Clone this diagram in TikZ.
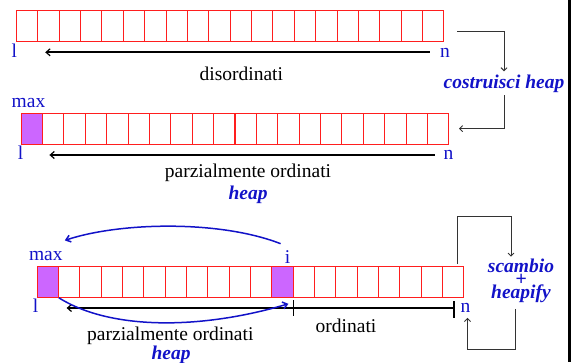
\documentclass[tikz,border=0pt]{standalone}
\usepackage{fontspec}
\setmainfont{Liberation Serif}
\definecolor{cellred}{RGB}{255,30,30}
\definecolor{heapviolet}{RGB}{204,102,255}
\definecolor{labelblue}{RGB}{18,18,200}
\usetikzlibrary{arrows.meta, positioning, calc}

\begin{document}
\begin{tikzpicture}[x=1pt, y=-1pt,
  cell/.style={draw=cellred, line width=0.8pt, minimum width=21.35pt,
               minimum height=31pt, inner sep=0pt, anchor=north west},
  fullcell/.style={cell, fill=heapviolet},
  tag/.style={text=labelblue, font=\fontsize{19.5}{20}\selectfont,
              text height=9.4pt, text depth=0pt, inner sep=0pt, anchor=base},
  note/.style={font=\fontsize{19.5}{20}\selectfont, inner sep=0pt, anchor=base},
  boldnote/.style={note, text=labelblue, font=\fontsize{19.5}{20}\selectfont\bfseries\itshape},
  spanline/.style={line width=1.7pt, -{Straight Barb[length=4pt,width=7pt,line width=1.2pt]}},
  steplink/.style={draw=black!80, line width=0.9pt, -{Straight Barb[length=3pt,width=6pt]}},
  swapline/.style={draw=labelblue, line width=1.5pt, -{Straight Barb[length=4.5pt,width=7pt]}},
  cutmark/.style={line width=1.7pt}
]
\useasboundingbox (0,0) rectangle (573,362);

% Arrays
\foreach \k in {1,...,20}
  \node[cell] (a1-\k) at ({16+(\k-1)*21.37},10) {};
\node[fullcell] (a2-1) at (20.7,112.7) {};
\foreach \k in {2,...,20}
  \node[cell] (a2-\k) at ({20.7+(\k-1)*21.38},112.7) {};
\node[fullcell] (a3-1) at (36.7,266) {};
\foreach \k in {2,...,11,13,14,...,20}
  \node[cell] (a3-\k) at ({36.7+(\k-1)*21.33},266) {};
\node[fullcell] (a3-12) at ({36.7+11*21.33},266) {};

% Index labels
\node[tag] (l1) at (14.3,57) {l};
\node[tag] (n1) at (445,57) {n};
\node[tag] (max2) at (28.5,107) {max};
\node[tag] (l2) at (20.5,159.7) {l};
\node[tag] (n2) at (448.5,159.7) {n};
\node[tag] (max3) at (45.8,260) {max};
\node[tag] (i) at (287.5,263.3) {i};
\node[tag] (l3) at (35.7,312.7) {l};
\node[tag] (n3) at (465.5,312.7) {n};

% Ranges
\draw[spanline, shorten <=10pt, shorten >=28pt] (n1) -- (l1);
\draw[spanline, shorten <=8.6pt, shorten >=26pt] (n2) -- (l2);
\coordinate (cut) at (a3-12.south east |- l3);
\coordinate (stop) at ([xshift=-10pt]a3-20.south east |- l3);
\draw[spanline, shorten >=28pt] (cut) -- (l3);
\draw[cutmark] (cut) -- (stop);
\draw[cutmark] ([yshift=8pt]cut) -- ([yshift=-8pt]cut);
\draw[cutmark] ([yshift=7pt]stop) -- ([yshift=-10pt]stop);

% Texts
\node[note] (dis) at (241.3,80) {disordinati};
\node[note] (part2) at (248,177) {parzialmente ordinati};
\node[boldnote] (heap2) at (248,199.5) {heap};
\node[note] (part3) at (170.3,340) {parzialmente ordinati};
\node[boldnote] (heap3) at (171,359) {heap};
\node[note] (sorted) at (346,332.5) {ordinati};
\node[boldnote, inner sep=3pt] (build) at (504,88) {costruisci heap};
\node[boldnote, align=center, anchor=north, inner sep=2pt] (swap) at (521,256.7)
  {scambio\\[-7pt]{\fontsize{20}{13}\selectfont +}\\[-7pt]heapify};

% Steps
\draw[steplink] ($(a1-20.east)+(13,5.5)$) -| (build.north);
\draw[steplink] (build.south) |- ($(a2-20.east)+(10,0)$);
\draw[steplink] ($(a3-20.north east)+(-7,-2)$) |- ([xshift=-10pt,yshift=40pt]swap.north)
  -- ([xshift=-10pt]swap.north);
\draw[steplink] ([xshift=-6pt,yshift=-4pt]swap.south) |- ([xshift=2pt,yshift=-37pt]n3.south)
  -- ([xshift=2pt,yshift=-5pt]n3.south);

% Swap of max and i
\draw[swapline] ($(i.north west)+(-4,-10)$) .. controls (220,220) and (120,222) ..
  ($(max3.north east)+(2,-10)$);
\draw[swapline] (a3-1.south east) .. controls (110,330) and (200,330) ..
  ($(a3-12.south)+(6,6)$);

% Divider
\draw[line width=2.6pt] (569.5,0) -- (569.5,362);
\end{tikzpicture}
\end{document}
